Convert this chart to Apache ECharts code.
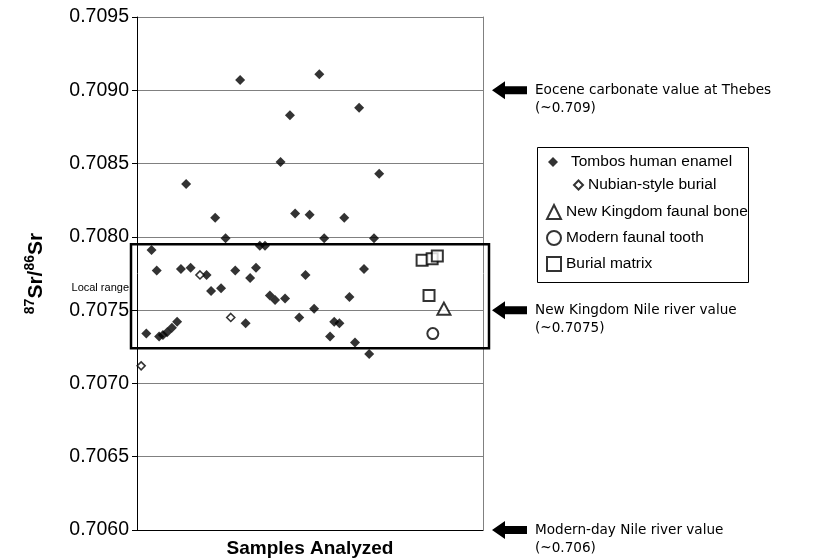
<!DOCTYPE html>
<html><head><meta charset="utf-8">
<script src="https://cdn.jsdelivr.net/npm/echarts@6/dist/echarts.min.js"></script>
<style>html,body{margin:0;padding:0;background:#fff}#c{width:824px;height:558px}</style>
</head><body><div id="c"></div>
<script>
// ---- data ----
const yTicks = [0.7060, 0.7065, 0.7070, 0.7075, 0.7080, 0.7085, 0.7090, 0.7095];
const tombosX = [2.7, 4.2, 5.7, 6.4, 7.5, 8.7, 10.1, 11.6, 12.7, 14.2, 15.5, 20.1, 21.4, 22.6, 24.3, 25.6, 28.4, 29.8, 31.4, 32.7, 34.4, 35.5, 37.0, 38.4, 39.9, 41.5, 42.8, 44.2, 45.7, 46.9, 48.7, 49.9, 51.2, 52.7, 54.1, 55.8, 57.0, 58.5, 59.9, 61.4, 63.0, 64.2, 65.6, 67.1, 68.5, 70.0];
const tombosY = [0.70734, 0.70791, 0.70777, 0.70732, 0.70733, 0.70735, 0.70738, 0.70742, 0.70778, 0.70836, 0.70779, 0.70774, 0.70763, 0.70813, 0.70765, 0.70799, 0.70777, 0.70907, 0.70741, 0.70772, 0.70779, 0.70794, 0.70794, 0.70760, 0.70757, 0.70851, 0.70758, 0.70883, 0.70816, 0.70745, 0.70774, 0.70815, 0.70751, 0.70911, 0.70799, 0.70732, 0.70742, 0.70741, 0.70813, 0.70759, 0.70728, 0.70888, 0.70778, 0.70720, 0.70799, 0.70843];
const nubianX = [1.2, 18.2, 27.1];
const nubianY = [0.70712, 0.70774, 0.70745];
const faunalBoneX = [88.7];
const faunalBoneY = [0.70751];
const toothX = [85.5];
const toothY = [0.70734];
const matrixX = [82.4, 85.3, 86.8, 84.4];
const matrixY = [0.70784, 0.70785, 0.70787, 0.70760];
const localRange = [0.70724, 0.70795];
const refValues = [0.7090, 0.7075, 0.7060];
const refLabels = [["Eocene carbonate value at Thebes", "(~0.709)"], ["New Kingdom Nile river value", "(~0.7075)"], ["Modern-day Nile river value", "(~0.706)"]];
const seriesNames = ["Tombos human enamel", "Nubian-style burial", "New Kingdom faunal bone", "Modern faunal tooth", "Burial matrix"];

const pairs = (xs, ys) => xs.map((x, i) => [x, ys[i]]);
const FONT = 'Liberation Sans, Arial, sans-serif';

const chart = echarts.init(document.getElementById('c'), null, {renderer: 'canvas'});
const GRID = {left: 137, right: 341, top: 17, bottom: 28};

const option = {
  animation: false,
  backgroundColor: '#fff',
  grid: Object.assign({containLabel: false, outerBoundsMode: 'none'}, GRID),
  xAxis: {type: 'value', min: 0, max: 100, axisLine: {show: true, onZero: false, lineStyle: {color: '#000', width: 1}},
    axisTick: {show: false}, axisLabel: {show: false}, splitLine: {show: false},
    name: 'Samples Analyzed', nameLocation: 'middle', nameGap: 9,
    nameTextStyle: {fontFamily: FONT, fontSize: 19, fontWeight: 'bold', color: '#000'}},
  yAxis: [{type: 'value', min: 0.7060, max: 0.7095, interval: 0.0005,
    axisLine: {show: true, lineStyle: {color: '#000', width: 1}},
    axisTick: {show: true, inside: false, length: 5, lineStyle: {color: '#000'}},
    axisLabel: {fontFamily: FONT, fontSize: 19.5, color: '#000', margin: 8, formatter: v => v.toFixed(4)},
    splitLine: {show: true, lineStyle: {color: '#808080', width: 1}},
    name: '{sup|87}{b|Sr/}{sup|86}{b|Sr}', nameLocation: 'middle', nameGap: 90, nameRotate: 90,
    nameTextStyle: {rich: {
      b: {fontFamily: FONT, fontSize: 21, fontWeight: 'bold', color: '#000', verticalAlign: 'bottom', lineHeight: 24},
      sup: {fontFamily: FONT, fontSize: 14, fontWeight: 'bold', color: '#000', verticalAlign: 'top', lineHeight: 24}
    }}},
    {type: 'value', min: 0.7060, max: 0.7095, position: 'right', axisLine: {show: true, lineStyle: {color: '#808080'}},
     axisTick: {show: false}, axisLabel: {show: false}, splitLine: {show: false}}],
  legend: [
    {data: [seriesNames[0]], left: 543, top: 149, itemWidth: 10, itemHeight: 10, itemGap: 0,
     textStyle: {fontFamily: FONT, fontSize: 15.5, color: '#000', padding: [0, 0, 0, 8]}},
    {data: [seriesNames[1]], left: 568, top: 172, itemWidth: 9, itemHeight: 9,
     textStyle: {fontFamily: FONT, fontSize: 15.5, color: '#000'}},
    {data: seriesNames.slice(2), left: 541, top: 199, orient: 'vertical', itemGap: 10, itemWidth: 14, itemHeight: 14,
     textStyle: {fontFamily: FONT, fontSize: 15.5, color: '#000'}}
  ],
  series: [
    {name: seriesNames[0], type: 'scatter', data: pairs(tombosX, tombosY), symbol: 'diamond', symbolSize: 10,
     itemStyle: {color: '#000'}, z: 5},
    {name: seriesNames[1], type: 'scatter', data: pairs(nubianX, nubianY), symbol: 'diamond', symbolSize: 8,
     itemStyle: {color: '#fff', borderColor: '#000', borderWidth: 1.6}, z: 5},
    {name: seriesNames[2], type: 'scatter', data: pairs(faunalBoneX, faunalBoneY), symbol: 'triangle', symbolSize: [13, 12],
     itemStyle: {color: '#fff', borderColor: '#000', borderWidth: 2}, z: 5},
    {name: seriesNames[3], type: 'scatter', data: pairs(toothX, toothY), symbol: 'circle', symbolSize: 11,
     itemStyle: {color: '#fff', borderColor: '#000', borderWidth: 2}, z: 5},
    {name: seriesNames[4], type: 'scatter', data: pairs(matrixX, matrixY), symbol: 'rect', symbolSize: 11,
     itemStyle: {color: '#fff', borderColor: '#000', borderWidth: 2}, z: 5}
  ]
};
chart.setOption(option);

// ---- overlays positioned via the axis scale ----
const py = v => chart.convertToPixel({yAxisIndex: 0}, v);
const plotRight = 824 - GRID.right;
const graphics = [];
const yTop = py(localRange[1]), yBot = py(localRange[0]);
graphics.push({type: 'rect', shape: {x: GRID.left - 6, y: yTop, width: plotRight - GRID.left + 12, height: yBot - yTop},
  style: {fill: 'none', stroke: '#000', lineWidth: 2.5}, z: 10});
graphics.push({type: 'text', style: {text: 'Local range', x: GRID.left - 8, y: (yTop + yBot) / 2 - 8, align: 'right', verticalAlign: 'middle',
  font: '11px ' + FONT, fill: '#000'}, z: 10});
graphics.push({type: 'rect', shape: {x: 537.5, y: 147.5, width: 211, height: 135}, style: {fill: 'none', stroke: '#000', lineWidth: 1}, z: 10});
refValues.forEach((v, i) => {
  const y = py(v);
  const x0 = 492;
  graphics.push({type: 'polygon', shape: {points: [[x0, y], [x0 + 13, y - 9], [x0 + 13, y - 4], [x0 + 35, y - 4], [x0 + 35, y + 4], [x0 + 13, y + 4], [x0 + 13, y + 9]]},
    style: {fill: '#000'}, z: 10});
  graphics.push({type: 'text', style: {text: refLabels[i][0] + '\n' + refLabels[i][1], x: 535, y: y - 9, align: 'left', verticalAlign: 'top',
    font: '13.6px DejaVu Sans, sans-serif', fill: '#000', lineHeight: 18}, z: 10});
});
chart.setOption({graphic: graphics});
</script></body></html>
